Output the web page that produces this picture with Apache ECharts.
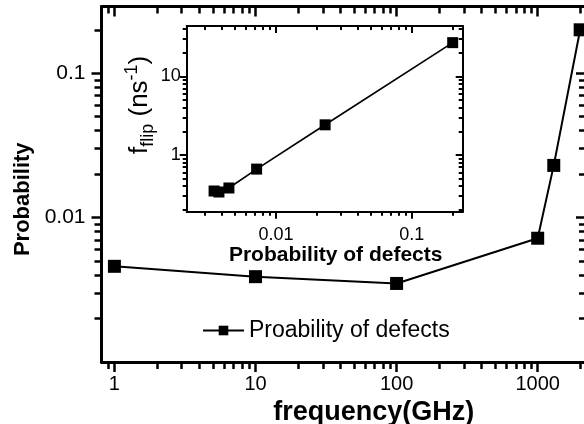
<!DOCTYPE html>
<html><head><meta charset="utf-8">
<script src="https://cdn.jsdelivr.net/npm/echarts@6/dist/echarts.min.js"></script>
<style>html,body{margin:0;padding:0;background:#fff}#c{width:584px;height:424px}</style>
</head><body><div id="c"></div>
<script>
// ---- main chart data ----
const freqGHz = [1, 10, 100, 1000, 1300, 2000];
const probDefects = [0.0046, 0.0039, 0.0035, 0.0072, 0.023, 0.2];
// ---- inset data ----
const insetProb = [0.0035, 0.0038, 0.0045, 0.0072, 0.023, 0.2];
const insetFlip = [0.347, 0.337, 0.379, 0.66, 2.42, 27];
// ---- tick labels ----
const mainXLabels = [1, 10, 100, 1000];
const mainYLabels = [0.01, 0.1];
const insetXLabels = [0.01, 0.1];
const insetYLabels = [1, 10];
const seriesName = 'Proability of defects';

const FONT = '"Liberation Sans", Arial, sans-serif';

function minorTicks(lo, hi) {
  const out = [];
  for (let e = Math.floor(Math.log10(lo)); e <= Math.ceil(Math.log10(hi)); e++) {
    for (let m = 2; m <= 9; m++) {
      const v = +(m * Math.pow(10, e)).toPrecision(3);
      if (v >= lo && v <= hi) out.push(v);
    }
  }
  return out;
}

function axisSet(dim, grid, min, max, majors, lw, tw, majLen, minLen, labelCfg, nameCfg) {
  const sides = dim === 'x' ? ['bottom', 'top'] : ['left', 'right'];
  const minor = minorTicks(min, max);
  const common = {type: 'log', logBase: 10, gridIndex: grid, min: min, max: max,
    splitLine: {show: false}, minorTick: {show: false}, minorSplitLine: {show: false}};
  const line = {show: true, onZero: false, lineStyle: {color: '#000', width: lw}};
  const tickStyle = {color: '#000', width: tw};
  return [
    Object.assign({}, common, {position: sides[0], axisLine: line,
      axisTick: {show: true, inside: false, length: majLen, customValues: majors, lineStyle: tickStyle},
      axisLabel: Object.assign({show: true, customValues: majors, formatter: v => String(v), color: '#000', fontFamily: FONT}, labelCfg)
    }, nameCfg),
    Object.assign({}, common, {position: sides[0], axisLine: {show: false, onZero: false},
      axisTick: {show: true, inside: false, length: minLen, customValues: minor, lineStyle: tickStyle},
      axisLabel: {show: false}}),
    Object.assign({}, common, {position: sides[1], axisLine: line,
      axisTick: {show: true, inside: true, length: majLen, customValues: majors, lineStyle: tickStyle},
      axisLabel: {show: false}}),
    Object.assign({}, common, {position: sides[1], axisLine: {show: false, onZero: false},
      axisTick: {show: true, inside: true, length: minLen, customValues: minor, lineStyle: tickStyle},
      axisLabel: {show: false}})
  ];
}

const xAxes = [].concat(
  axisSet('x', 0, 0.81, 2200, mainXLabels, 3, 2.5, 10, 7, {fontSize: 20, margin: 12},
    {name: 'frequency(GHz)', nameLocation: 'middle', nameGap: 29,
     nameTextStyle: {fontSize: 27, fontWeight: 'bold', color: '#000', fontFamily: FONT, padding: [0, 0, 0, 60]}}),
  axisSet('x', 1, 0.0022, 0.237, insetXLabels, 2, 2, 7, 4, {fontSize: 18, margin: 14},
    {name: 'Probability of defects', nameLocation: 'middle', nameGap: 26,
     nameTextStyle: {fontSize: 21, fontWeight: 'bold', color: '#000', fontFamily: FONT, padding: [0, 0, 0, 22]}})
);
const yAxes = [].concat(
  axisSet('y', 0, 0.001, 0.29, mainYLabels, 3, 2.5, 10, 7, {fontSize: 21, margin: 16},
    {name: 'Probability', nameLocation: 'middle', nameGap: 68, nameRotate: 90,
     nameTextStyle: {fontSize: 22, fontWeight: 'bold', color: '#000', fontFamily: FONT, padding: [0, 30, 0, 0]}}),
  axisSet('y', 1, 0.189, 44, insetYLabels, 2, 2, 7, 4, {fontSize: 18, margin: 6},
    {name: '{f|f}{sub|flip}{p| (ns}{sup|-1}{p|)}', nameLocation: 'middle', nameGap: 24, nameRotate: 90,
     nameTextStyle: {color: '#000', fontFamily: FONT, padding: [0, 0, 0, 28],
       rich: {
         f: {fontSize: 26, fontFamily: FONT, color: '#000', lineHeight: 34},
         p: {fontSize: 26, fontFamily: FONT, color: '#000', lineHeight: 34},
         sub: {fontSize: 18, fontFamily: FONT, color: '#000', verticalAlign: 'bottom'},
         sup: {fontSize: 18, fontFamily: FONT, color: '#000', verticalAlign: 'top'}
       }}})
);

const chart = echarts.init(document.getElementById('c'), null, {renderer: 'canvas'});
chart.setOption({
  animation: false,
  backgroundColor: '#fff',
  grid: [
    {left: 101.5, top: 6.5, right: -2, bottom: 62, outerBoundsMode: 'none', containLabel: false},
    {left: 186.7, top: 26, right: 121.3, bottom: 212.3, outerBoundsMode: 'none', containLabel: false}
  ],
  legend: {
    data: [seriesName], left: 202, top: 319, padding: 0, itemWidth: 41, itemHeight: 12,
    textStyle: {fontSize: 23, color: '#000', fontFamily: FONT}
  },
  xAxis: xAxes,
  yAxis: yAxes,
  series: [
    {name: seriesName, type: 'line', xAxisIndex: 0, yAxisIndex: 0,
     data: freqGHz.map((f, i) => [f, probDefects[i]]),
     symbol: 'rect', symbolSize: 13,
     lineStyle: {color: '#000', width: 2}, itemStyle: {color: '#000'}},
    {name: 'inset', type: 'line', xAxisIndex: 4, yAxisIndex: 4,
     data: insetProb.map((p, i) => [p, insetFlip[i]]),
     symbol: 'rect', symbolSize: 11,
     lineStyle: {color: '#000', width: 1.7}, itemStyle: {color: '#000'}}
  ]
});
</script>
</body></html>
